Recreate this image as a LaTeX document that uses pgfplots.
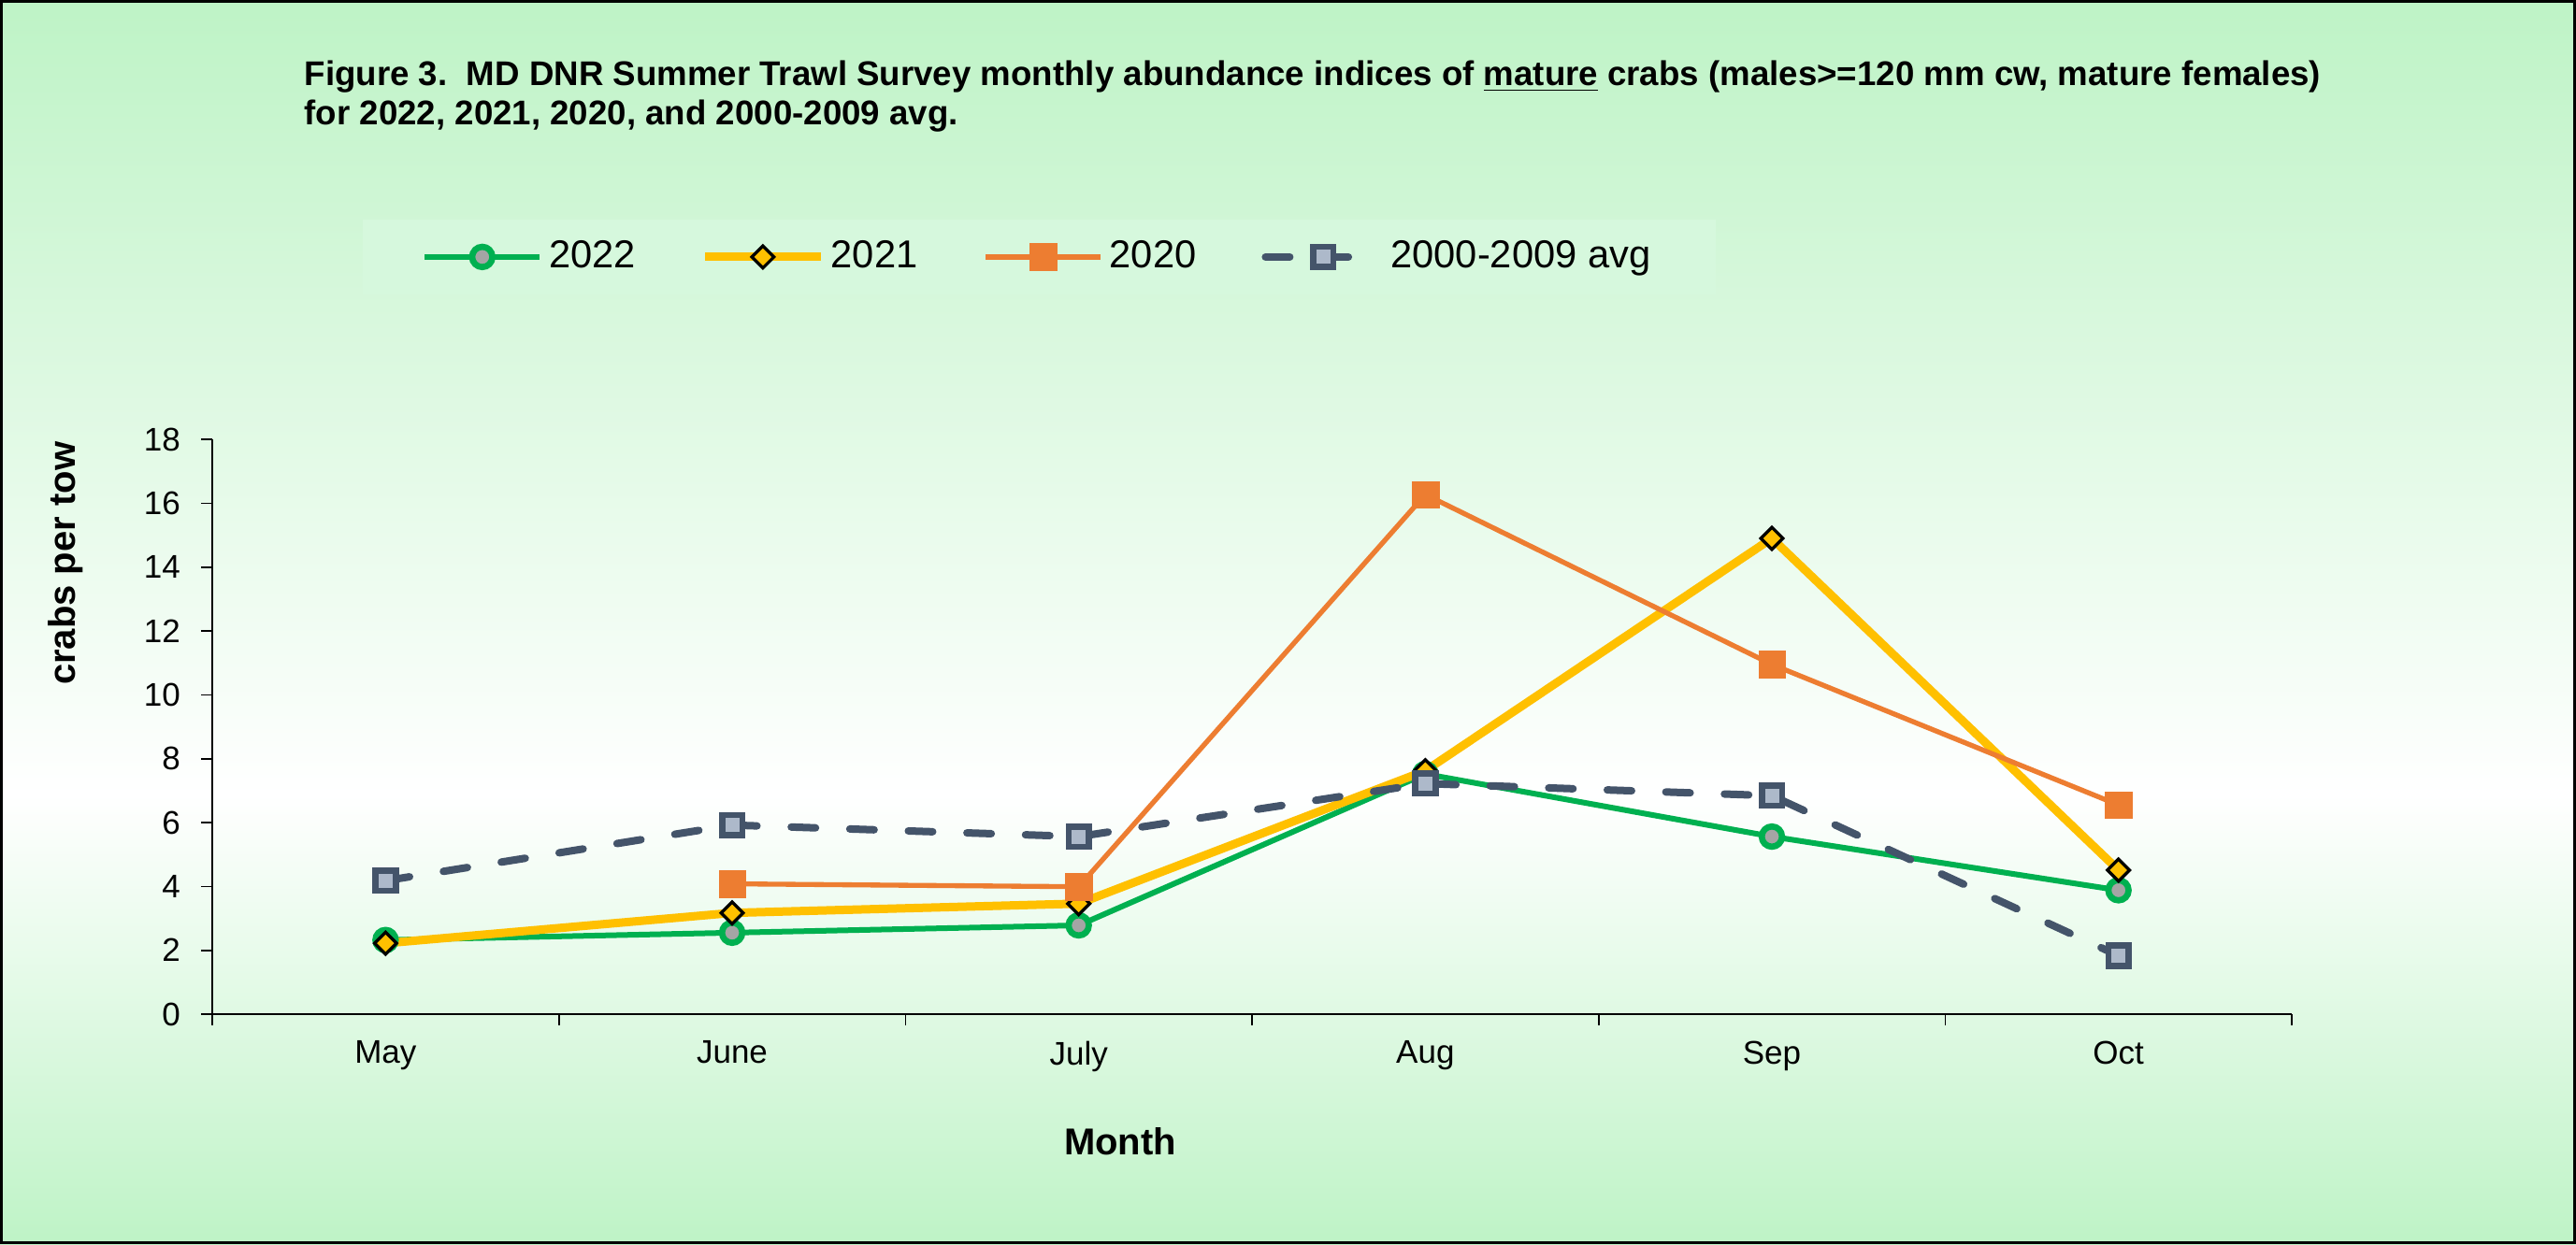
\documentclass[border=0pt]{standalone}
\usepackage{fontspec}
\setmainfont{Liberation Sans}
\usepackage{pgfplots}
\pgfplotsset{compat=1.18}
\definecolor{bgg}{RGB}{190,243,198}
\definecolor{c22}{RGB}{0,176,80}
\definecolor{c21}{RGB}{255,192,0}
\definecolor{c20}{RGB}{237,125,49}
\definecolor{cavg}{RGB}{68,84,106}
\definecolor{cavgf}{RGB}{173,185,202}
\definecolor{grayf}{RGB}{165,165,165}
\definecolor{legbg}{RGB}{214,248,221}
\begin{document}
\begin{tikzpicture}
\path[use as bounding box] (0,0) rectangle (826.5pt,399.3pt);
\shade[top color=bgg, bottom color=white] (0,144pt) rectangle (826.5pt,399.3pt);
\shade[top color=white, bottom color=bgg] (0,0) rectangle (826.5pt,144.2pt);
\draw[black, line width=0.8pt] (0.4pt,0.4pt) rectangle (826.1pt,398.9pt);
\node[anchor=north west, inner sep=0pt, align=left, font=\bfseries\fontsize{11}{12.6}\selectfont]
  at (97.5pt,380pt) {Figure 3.\ \ MD DNR Summer Trawl Survey monthly abundance indices of \underline{mature} crabs (males>=120 mm cw, mature females)\\for 2022, 2021, 2020, and 2000-2009 avg.};
\begin{axis}[
  at={(68.1pt,73.8pt)}, anchor=south west,
  scale only axis, width=667.2pt, height=184.5pt,
  xmin=-0.5, xmax=5.5, ymin=0, ymax=18,
  axis x line*=bottom, axis y line*=left,
  ytick={0,2,...,18},
  xtick={-0.5,0.5,...,5.5},
  x tick label as interval,
  xticklabels={May,June,July,Aug,Sep,Oct},
  tick align=outside, major tick length=3.5pt,
  tick style={black, line width=0.5pt},
  axis line style={black, line width=0.5pt},
  ticklabel style={font=\fontsize{10.5}{12}\selectfont},
  yticklabel style={xshift=-3.2pt},
  xticklabel style={yshift=-1.6pt},
  /pgf/number format/assume math mode=true,
  xlabel={Month}, ylabel={crabs per tow},
  label style={font=\bfseries\fontsize{12}{14}\selectfont},
  xlabel style={at={(axis description cs:0.4366,-0.221)}, anchor=center},
  ylabel style={at={(axis description cs:-0.0706,0.784)}, anchor=center},
  clip=false,
  legend columns=4,
  legend style={at={(0.072,1.384)}, anchor=north west, fill=legbg, draw=none,
    font=\fontsize{12.5}{14}\selectfont, inner xsep=19pt, inner ysep=5pt,
    /tikz/every even column/.append style={column sep=19pt}},
  legend image code/.code={\draw[mark repeat=2,mark phase=2] plot coordinates {(0cm,0cm) (0.65cm,0cm) (1.3cm,0cm)};},
]
\addplot[c22, line width=1.8pt, mark=*, mark size=3.25pt,
  mark options={fill=grayf, draw=c22, line width=2pt, solid}]
  coordinates {(0,2.32)(1,2.55)(2,2.78)(3,7.52)(4,5.56)(5,3.88)};
\addlegendentry{2022}
\addplot[c21, line width=2.7pt, mark=square*, mark size=2.5pt,
  mark options={fill=c21, draw=black, line width=1pt, solid, rotate=45}]
  coordinates {(0,2.22)(1,3.17)(2,3.46)(3,7.62)(4,14.9)(5,4.51)};
\addlegendentry{2021}
\addplot[c20, line width=1.6pt, mark=square*, mark size=4.3pt,
  mark options={fill=c20, draw=c20, line width=0.1pt, solid}]
  coordinates {(1,4.08)(2,3.99)(3,16.27)(4,10.95)(5,6.55)};
\addlegendentry{2020}
\addplot[cavg, line width=2.4pt, dash pattern=on 7.8pt off 11pt, line cap=round,
  mark=square*, mark size=3.25pt,
  mark options={fill=cavgf, draw=cavg, line width=2pt, solid, line cap=butt}]
  coordinates {(0,4.18)(1,5.92)(2,5.56)(3,7.22)(4,6.84)(5,1.83)};
\addlegendentry{2000-2009 avg}
\end{axis}
\end{tikzpicture}
\end{document}
